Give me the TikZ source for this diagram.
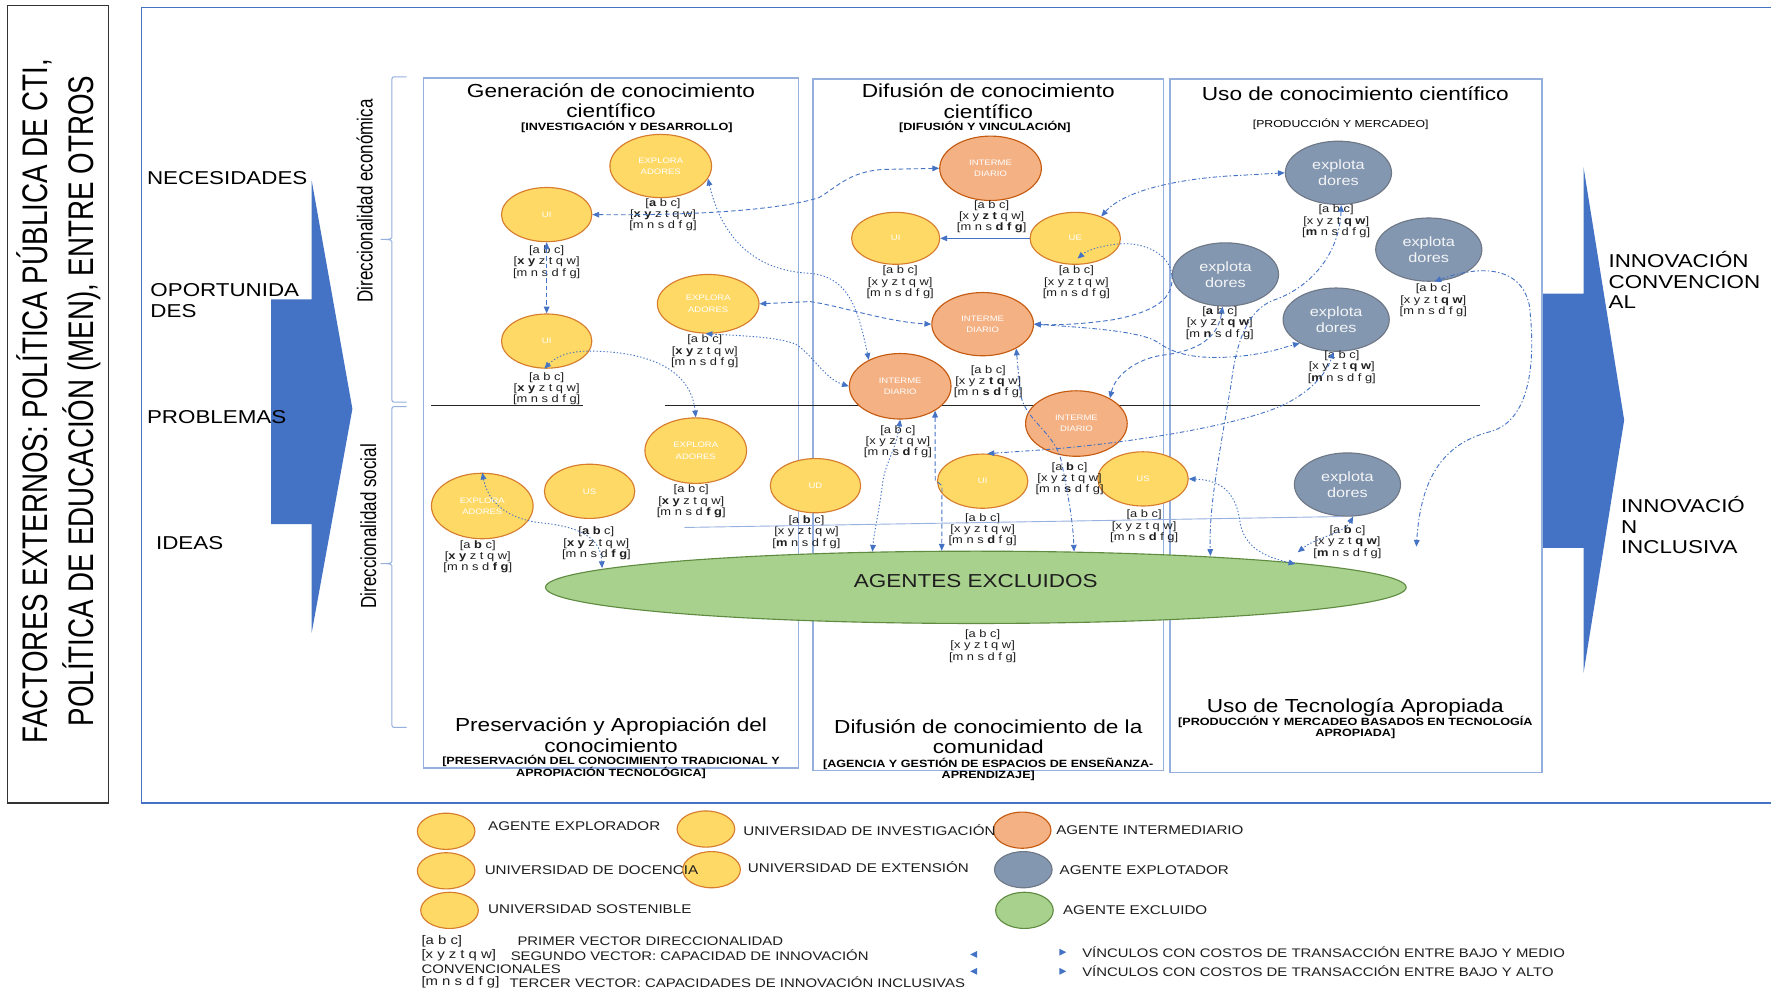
\documentclass[tikz,border=0pt]{standalone}
\usepackage{fontspec}
\setmainfont{Liberation Sans}[FakeStretch=1.2]
\newfontfamily\narrowf{Liberation Sans}[FakeStretch=0.78]
\usetikzlibrary{arrows.meta,shapes.geometric}

\definecolor{linkblue}{RGB}{68,114,196}
\definecolor{paleblue}{RGB}{150,176,222}
\definecolor{bigblue}{RGB}{68,114,196}
\definecolor{uniyellow}{RGB}{255,217,102}
\definecolor{uniedge}{RGB}{214,124,44}
\definecolor{interfill}{RGB}{244,177,131}
\definecolor{interedge}{RGB}{197,90,17}
\definecolor{explfill}{RGB}{132,151,176}
\definecolor{expledge}{RGB}{110,120,135}
\definecolor{exclfill}{RGB}{169,209,142}
\definecolor{excledge}{RGB}{96,140,66}
\definecolor{inktext}{RGB}{30,30,30}

\newcommand{\fs}[2]{\fontsize{#1}{#2}\selectfont}
\newcommand{\vlab}[3]{{[}#1{]}\\{[}#2{]}\\{[}#3{]}}

\tikzset{
  agent/.style={ellipse, inner sep=0pt, line width=1pt, text=white, align=center, font=\fs{7}{10}},
  uni/.style={agent, fill=uniyellow, draw=uniedge, minimum width=80pt, minimum height=48pt},
  explor/.style={agent, fill=uniyellow, draw=uniedge, minimum width=90pt, minimum height=56pt},
  inter/.style={agent, fill=interfill, draw=interedge, minimum width=90pt, minimum height=57pt},
  explot/.style={agent, fill=explfill, draw=expledge, minimum width=94pt, minimum height=56pt, font=\fs{12}{14}, text=white!90!explfill},
  veclab/.style={align=center, inner sep=0pt, text=inktext, font=\fs{9.5}{10}},
  coltitle/.style={align=center, inner sep=0pt, font=\fs{16.7}{18}},
  subtitle/.style={align=center, inner sep=0pt, font=\bfseries\fs{9.3}{10}},
  sidetext/.style={align=left, inner sep=0pt, anchor=west, font=\fs{16.5}{18}},
  legdot/.style={ellipse, inner sep=0pt, line width=1pt, minimum width=51pt, minimum height=32pt},
  legtext/.style={anchor=west, inner sep=0pt, text=inktext, font=\fs{11.2}{13}},
  keytext/.style={anchor=west, inner sep=0pt, text=inktext, font=\fs{11}{12.3}},
  colbox/.style={draw=paleblue, line width=1.4pt},
  lnk/.style={draw=linkblue, line width=0.8pt},
  lkdash/.style={dash pattern=on 4pt off 2.5pt},
  lkdot/.style={dash pattern=on 1.2pt off 1.8pt},
  lkdashdot/.style={dash pattern=on 4pt off 2pt on 1.2pt off 2pt},
}

\begin{document}
\begin{tikzpicture}[x=1pt, y=-1pt, >={Triangle[length=6pt,width=5pt]}]
\useasboundingbox (0,0) rectangle (1568,877);
\fill[white] (0,0) rectangle (1568,877);

% outer frames
\draw[black!80, line width=1pt] (7,5) rectangle (96,711);
\draw[bigblue, line width=1pt] (125,7) rectangle (1590,711);

\node[rotate=90, align=center, inner sep=0pt, font=\narrowf\fs{31.5}{40}] (ext) at (52,355)
  {FACTORES EXTERNOS: POLÍTICA PÚBLICA DE CTI,\\POLÍTICA DE EDUCACIÓN (MEN), ENTRE OTROS};

% input arrow
\fill[bigblue] (240,265) -- (276,265) -- (276,160) -- (312,362) -- (276,560) -- (276,464) -- (240,464) -- cycle;
\node[sidetext] (nec) at (130,158) {NECESIDADES};
\node[sidetext] (opo) at (133,266) {OPORTUNIDA\\DES};
\node[sidetext] (pro) at (130,369) {PROBLEMAS};
\node[sidetext] (ide) at (138,481) {IDEAS};

% output arrow
\fill[bigblue] (1365,260) -- (1402,260) -- (1402,148) -- (1438,372) -- (1402,596) -- (1402,485) -- (1365,485) -- cycle;
\node[sidetext, font=\fs{16.5}{18}] (inc) at (1424,248) {INNOVACIÓN\\CONVENCION\\AL};
\node[sidetext, font=\fs{16.5}{18}] (ini) at (1435,465) {INNOVACIÓ\\N\\INCLUSIVA};

% directionality braces
\draw[paleblue, line width=0.9pt] (360,68) -- (351,68) .. controls (347,68) .. (347,72) -- (347,208)
  .. controls (347,212) .. (337,212) .. controls (347,212) .. (347,216) -- (347,352)
  .. controls (347,356) .. (351,356) -- (360,356);
\draw[paleblue, line width=0.9pt] (360,360) -- (351,360) .. controls (347,360) .. (347,364) -- (347,495)
  .. controls (347,499) .. (337,499) .. controls (347,499) .. (347,503) -- (347,640)
  .. controls (347,644) .. (351,644) -- (360,644);
\node[rotate=90, inner sep=0pt, font=\narrowf\fs{19.3}{20}] (dire) at (323,178) {Direccionalidad económica};
\node[rotate=90, inner sep=0pt, font=\narrowf\fs{19.3}{20}] (dirs) at (326,466) {Direccionalidad social};

% columns
\draw[colbox] (375,69) rectangle (707,680);
\draw[colbox] (720,70) rectangle (1030,682);
\draw[colbox] (1036,70) rectangle (1365,684);

% divider between economic and social directionality
\draw[black!85, line width=0.8pt] (382,359) -- (516,359);
\draw[black!85, line width=0.8pt] (589,359) -- (1310,359);

% column titles
\node[coltitle] (t1) at (541,89) {Generación de conocimiento\\científico};
\node[subtitle] (s1) at (555,112.5) {{[}INVESTIGACIÓN Y DESARROLLO{]}};
\node[coltitle] (t2) at (875,89.5) {Difusión de conocimiento\\científico};
\node[subtitle] (s2) at (872,112) {{[}DIFUSIÓN Y VINCULACIÓN{]}};
\node[coltitle] (t3) at (1200,83) {Uso de conocimiento científico};
\node[subtitle, font=\fs{9}{10}] (s3) at (1187,110) {{[}PRODUCCIÓN Y MERCADEO{]}};

\node[coltitle] (b1) at (541,651) {Preservación y Apropiación del\\conocimiento};
\node[subtitle] (bs1) at (541,679) {{[}PRESERVACIÓN DEL CONOCIMIENTO TRADICIONAL Y\\APROPIACIÓN TECNOLÓGICA{]}};
\node[coltitle] (b2) at (875,652) {Difusión de conocimiento de la\\comunidad};
\node[subtitle] (bs2) at (875,681) {{[}AGENCIA Y GESTIÓN DE ESPACIOS DE ENSEÑANZA-\\APRENDIZAJE{]}};
\node[coltitle] (b3) at (1200,626) {Uso de Tecnología Apropiada};
\node[subtitle] (bs3) at (1200,644) {{[}PRODUCCIÓN Y MERCADEO BASADOS EN TECNOLOGÍA\\APROPIADA{]}};

% excluded agents
\node[ellipse, fill=exclfill, draw=excledge, line width=1pt, inner sep=0pt,
      minimum width=762pt, minimum height=64pt] (ag) at (864,520) {};
\node[inner sep=0pt, font=\fs{16.6}{18}, text=inktext] (agtext) at ([yshift=6pt]ag.center) {AGENTES EXCLUIDOS};

% agents: generation of knowledge
\node[explor] (ex1) at (585,147) {EXPLORA\\ADORES};
\node[uni] (ui1) at (484,190) {UI};
\node[uni] (ui2) at (484,302) {UI};
\node[explor, minimum height=52pt] (ex2) at (627,269) {EXPLORA\\ADORES};
\node[explor, minimum height=58pt] (ex3) at (616,399) {EXPLORA\\ADORES};
\node[uni] (us1) at (522,435) {US};
\node[explor, minimum height=58pt] (ex4) at (427,448) {EXPLORA\\ADORES};
\node[uni] (ud) at (722,430) {UD};

% agents: diffusion of knowledge
\node[inter] (in1) at (877,149) {INTERME\\DIARIO};
\node[uni, minimum width=78pt, minimum height=46pt] (ui3) at (793,211) {UI};
\node[uni, minimum height=46pt] (ue) at (952,211) {UE};
\node[inter, minimum height=56pt] (in2) at (870,287) {INTERME\\DIARIO};
\node[inter, minimum height=58pt] (in3) at (797,342) {INTERME\\DIARIO};
\node[inter, minimum height=58pt] (in4) at (953,375) {INTERME\\DIARIO};
\node[uni] (ui4) at (870,426) {UI};
\node[uni] (us2) at (1012,424) {US};

% agents: use of knowledge
\node[explot] (xp1) at (1185,153) {explota\\dores};
\node[explot] (xp2) at (1265,221) {explota\\dores};
\node[explot] (xp3) at (1085,243) {explota\\dores};
\node[explot] (xp4) at (1183,283) {explota\\dores};
\node[explot] (xp5) at (1193,429) {explota\\dores};

% capability vectors
\node[veclab] (Lex1) at (587,190) {\vlab{\textbf{a} b c}{\textbf{x y} z t q w}{m n s d f g}};
\node[veclab] (Lui1) at (484,232) {\vlab{a b c}{\textbf{x y} z t q w}{m n s d f g}};
\node[veclab] (Lui2) at (484,344) {\vlab{a b c}{\textbf{x y} z t q w}{m n s d f g}};
\node[veclab] (Lex2) at (624,311) {\vlab{a b c}{\textbf{x y} z t q w}{m n s d f g}};
\node[veclab] (Lex3) at (612,444) {\vlab{a b c}{\textbf{x y} z t q w}{m n s d \textbf{f g}}};
\node[veclab] (Lus1) at (528,481) {\vlab{\textbf{a b} c}{\textbf{x y} z t q w}{m n s d \textbf{f g}}};
\node[veclab] (Lex4) at (423,493) {\vlab{a \textbf{b} c}{\textbf{x y} z t q w}{m n s d \textbf{f g}}};
\node[veclab] (Lud) at (714,471) {\vlab{a \textbf{b} c}{x y z t q w}{\textbf{m} n s d f g}};
\node[veclab] (Lin1) at (878,192) {\vlab{a b c}{x y \textbf{z t} q w}{m n s \textbf{d f g}}};
\node[veclab] (Lui3) at (797,250) {\vlab{a b c}{x y z t q w}{m n s d f g}};
\node[veclab] (Lue) at (953,250) {\vlab{a b c}{x y z t q w}{m n s d f g}};
\node[veclab] (Lin2) at (875,338) {\vlab{a b c}{x y z \textbf{t q} w}{m n \textbf{s d} f g}};
\node[veclab] (Lin3) at (795,391) {\vlab{a b c}{x y z t q w}{m n s \textbf{d} f g}};
\node[veclab] (Lin4) at (947,424) {\vlab{a \textbf{b} c}{x y z t q w}{m n \textbf{s} d f g}};
\node[veclab] (Lui4) at (870,469) {\vlab{a b c}{x y z t q w}{m n s \textbf{d} f g}};
\node[veclab] (Lus2) at (1013,466) {\vlab{a b c}{x y z t q w}{m n s \textbf{d} f g}};
\node[veclab] (Lxp1) at (1183,196) {\vlab{a b c}{x y z t \textbf{q w}}{\textbf{m} n s d f g}};
\node[veclab] (Lxp2) at (1269,266) {\vlab{a b c}{x y z t \textbf{q w}}{m n s d f g}};
\node[veclab] (Lxp3) at (1080,286) {\vlab{\textbf{a} b c}{x y z t \textbf{q w}}{m \textbf{n} s d f g}};
\node[veclab] (Lxp4) at (1188,325) {\vlab{a b c}{x y z t \textbf{q w}}{\textbf{m} n s d f g}};
\node[veclab] (Lxp5) at (1193,480) {\vlab{a \textbf{b} c}{x y z t \textbf{q w}}{\textbf{m} n s d f g}};
\node[veclab] (Lag) at (870,572) {\vlab{a b c}{x y z t q w}{m n s d f g}};

% free link ends
\coordinate (ueIn) at (954,229);
\coordinate (hl) at (606,467);
\coordinate (x5e) at (1149,489);
\coordinate (c19e) at (1254,484);

% links
\draw[lnk, lkdash, <->] (ui1.east) .. controls (640,191) and (700,183) .. (725,175)
  .. controls (742,165) and (752,152) .. (782,150) -- (in1.west);
\draw[lnk, lkdashdot, <->] (ue.40) .. controls (992,172) and (1030,160) .. (1085,156) -- (xp1.west);
\draw[lnk, ->] (ue.west) -- (ui3.east);
\draw[lnk, lkdot, ->] (xp3.west) .. controls (1035,224) and (1012,214) .. (990,216)
  .. controls (972,218) and (962,222) .. (ueIn);
\draw[lnk, lkdash, ->] (xp3.west) .. controls (1040,265) and (1022,276) .. (986,283)
  .. controls (960,287) and (935,288) .. (in2.east);
\draw[lnk, lkdash, <->] (ex2.east) -- (717,267) .. controls (745,271) and (785,285) .. (in2.west);
\draw[lnk, lkdot, <->] (ex1.-15) .. controls (640,215) and (672,240) .. (717,242)
  .. controls (752,245) and (760,275) .. (in3.140);
\draw[lnk, lkdash, <->] (ui1.south) -- (ui2.north);
\draw[lnk, lkdot, <->] (ui2.-95) .. controls (495,313) and (510,310) .. (530,311)
  .. controls (580,313) and (612,330) .. (ex3.north);
\draw[lnk, lkdot, <->] (ex4.north) .. controls (432,445) and (450,460) .. (480,463)
  .. controls (520,467) and (532,480) .. ([xshift=-6pt]ag.177);
\draw[lnk, draw=linkblue!55] (hl) -- (xp5.-100);
\draw[lnk, lkdash, <->] (in3.-35) -- (828,425) -- (834,430) -- (ag.133);
\draw[lnk, lkdot, <->] (in3.-90) .. controls (793,400) and (783,410) .. (781,431)
  .. controls (778,455) and (774,470) .. (ag.161);
\draw[lnk, lkdashdot, <->] (in2.-36) -- (903,345) .. controls (905,372) and (935,382) .. (940,410)
  .. controls (946,440) and (950,462) .. (ag.20);
\draw[lnk, lkdash, <->] (in4.37) .. controls (988,330) and (1010,316) .. (1033,314)
  .. controls (1060,310) and (1078,300) .. (xp3.-95);
\draw[lnk, lkdashdot, <->] (ui4.80) -- (927,398) .. controls (1000,392) and (1090,378) .. (1133,360)
  .. controls (1160,348) and (1175,330) .. (xp4.-95);
\draw[lnk, lkdot, <->] (us2.east) .. controls (1085,425) and (1095,440) .. (1098,463)
  .. controls (1102,485) and (1120,493) .. ([xshift=-12pt]ag.4);
\draw[lnk, lkdot, <->] (xp5.-80) .. controls (1190,472) and (1165,476) .. (x5e);
\draw[lnk, lkdashdot, <->] (xp2.-80) .. controls (1300,238) and (1345,230) .. (1354,270)
  .. controls (1360,320) and (1355,372) .. (1320,382) .. controls (1280,392) and (1258,420) .. (c19e);
\draw[lnk, lkdashdot, <->] (xp1.-85) .. controls (1186,225) and (1160,255) .. (1127,266)
  .. controls (1105,275) and (1095,300) .. (1090,340) .. controls (1080,400) and (1070,450) .. ([xshift=10pt]ag.8);
\draw[lnk, lkdashdot, <->] (in2.east) .. controls (960,290) and (1010,293) .. (1025,303)
  .. controls (1040,314) and (1060,318) .. (1090,316) .. controls (1120,314) and (1135,308) .. (xp4.213);
\draw[lnk, lkdot, <->] (ex2.-95) .. controls (650,297) and (690,298) .. (705,305)
  .. controls (720,315) and (730,335) .. (in3.west);

% legend
\node[legdot, fill=uniyellow, draw=uniedge] (k1) at (395,736) {};
\node[legdot, fill=uniyellow, draw=uniedge] (k2) at (625,734) {};
\node[legdot, fill=interfill, draw=interedge] (k3) at (905,735) {};
\node[legdot, fill=uniyellow, draw=uniedge] (k4) at (395,771) {};
\node[legdot, fill=uniyellow, draw=uniedge] (k5) at (630,770) {};
\node[legdot, fill=explfill, draw=expledge] (k6) at (906,770) {};
\node[legdot, fill=uniyellow, draw=uniedge] (k7) at (398,806) {};
\node[legdot, fill=exclfill, draw=excledge] (k8) at (907,806) {};
\node[legtext] (kt1) at (432,731) {AGENTE EXPLORADOR};
\node[legtext] (kt2) at (658,735) {UNIVERSIDAD DE INVESTIGACIÓN};
\node[legtext] (kt3) at (935,735) {AGENTE INTERMEDIARIO};
\node[legtext] (kt4) at (429,770) {UNIVERSIDAD DE DOCENCIA};
\node[legtext] (kt5) at (662,768) {UNIVERSIDAD DE EXTENSIÓN};
\node[legtext] (kt6) at (938,770) {AGENTE EXPLOTADOR};
\node[legtext] (kt7) at (432,805) {UNIVERSIDAD SOSTENIBLE};
\node[legtext] (kt8) at (941,806) {AGENTE EXCLUIDO};

\node[keytext] (v1a) at (373,833) {{[}a b c{]}};
\node[keytext] (v1b) at (458,833) {PRIMER VECTOR DIRECCIONALIDAD};
\node[keytext] (v2a) at (373,846) {{[}x y z t q w{]}};
\node[keytext] (v2b) at (452,846) {SEGUNDO VECTOR: CAPACIDAD DE INNOVACIÓN};
\node[keytext] (v2c) at (373,858) {CONVENCIONALES};
\node[keytext] (v3a) at (373,870) {{[}m n s d f g{]}};
\node[keytext] (v3b) at (451,870) {TERCER VECTOR: CAPACIDADES DE INNOVACIÓN INCLUSIVAS};

\fill[linkblue] (859,845) -- (865,842) -- (865,848) -- cycle;
\fill[linkblue] (859,860) -- (865,857) -- (865,863) -- cycle;
\fill[linkblue] (944,843) -- (938,840) -- (938,846) -- cycle;
\fill[linkblue] (944,860) -- (938,857) -- (938,863) -- cycle;
\node[keytext] (w1) at (958,843) {VÍNCULOS CON COSTOS DE TRANSACCIÓN ENTRE BAJO Y MEDIO};
\node[keytext] (w2) at (958,860) {VÍNCULOS CON COSTOS DE TRANSACCIÓN ENTRE BAJO Y ALTO};
\end{tikzpicture}
\end{document}
